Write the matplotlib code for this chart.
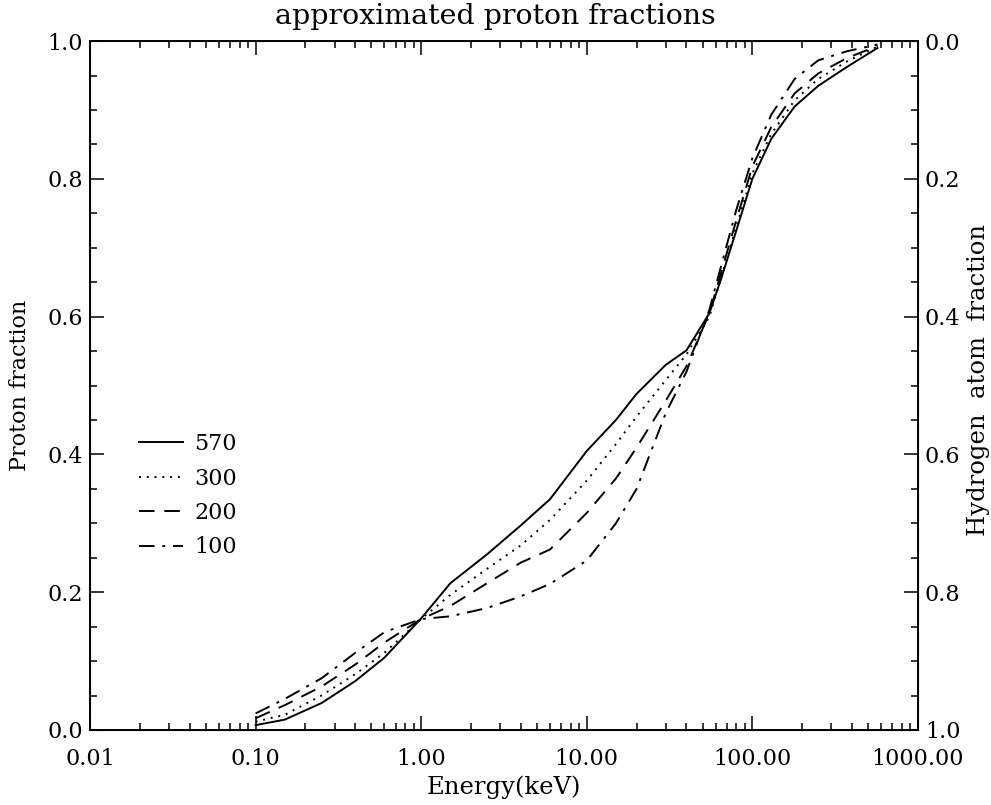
import numpy as np
import matplotlib
matplotlib.use("Agg")
import matplotlib.pyplot as plt
from matplotlib.ticker import FixedLocator, FormatStrFormatter, MultipleLocator, LogLocator, NullFormatter

# energy grid (keV) shared by all curves
energy = [0.1, 0.15, 0.25, 0.4, 0.6, 1.0, 1.5, 2.5, 4, 6, 10, 15, 20, 30, 40,
          55, 65, 80, 100, 130, 180, 250, 370, 570]

# proton fraction, one list per curve
frac_570 = [0.007, 0.015, 0.039, 0.071, 0.105, 0.162, 0.213, 0.255, 0.297, 0.335,
            0.405, 0.450, 0.488, 0.530, 0.551, 0.605, 0.656, 0.725, 0.800, 0.858,
            0.905, 0.935, 0.962, 0.990]
frac_300 = [0.012, 0.022, 0.050, 0.081, 0.112, 0.161, 0.196, 0.234, 0.268, 0.305,
            0.362, 0.415, 0.455, 0.508, 0.545, 0.600, 0.658, 0.730, 0.808, 0.865,
            0.914, 0.945, 0.970, 0.992]
frac_200 = [0.017, 0.036, 0.063, 0.095, 0.127, 0.161, 0.180, 0.213, 0.243, 0.262,
            0.315, 0.365, 0.410, 0.478, 0.528, 0.605, 0.665, 0.740, 0.818, 0.875,
            0.924, 0.953, 0.975, 0.993]
frac_100 = [0.024, 0.045, 0.075, 0.112, 0.142, 0.161, 0.165, 0.177, 0.194, 0.212,
            0.246, 0.300, 0.350, 0.460, 0.520, 0.610, 0.675, 0.755, 0.830, 0.893,
            0.945, 0.972, 0.985, 0.995]

labels = ["570", "300", "200", "100"]
x_ticks = [0.01, 0.1, 1, 10, 100, 1000]

plt.rcParams['font.family'] = ['DejaVu Serif']
plt.rcParams['font.size'] = 16

fig = plt.figure(figsize=(9.91, 8.05), dpi=100)
ax = fig.add_axes([0.0908, 0.0932, 0.8355, 0.8558])

styles = ['-', (0, (1, 3)), (0, (8, 5)), (0, (8, 4, 1.5, 4))]
for y, lab, ls in zip([frac_570, frac_300, frac_200, frac_100], labels, styles):
    ax.plot(energy, y, color='black', lw=1.4, linestyle=ls, label=lab)

ax.set_xscale('log')
ax.set_xlim(0.01, 1000)
ax.set_ylim(0, 1)
ax.xaxis.set_major_locator(FixedLocator(x_ticks))
ax.xaxis.set_major_formatter(FormatStrFormatter('%.2f'))
ax.xaxis.set_minor_locator(LogLocator(base=10, subs=np.arange(2, 10)))
ax.xaxis.set_minor_formatter(NullFormatter())
ax.yaxis.set_major_locator(MultipleLocator(0.2))
ax.yaxis.set_minor_locator(MultipleLocator(0.05))
ax.yaxis.set_major_formatter(FormatStrFormatter('%.1f'))
ax.tick_params(which='both', direction='in', top=True, right=False, width=1.1)
ax.tick_params(which='major', length=10, pad=5)
ax.tick_params(axis='x', which='major', pad=13)
ax.tick_params(which='minor', length=5)
for s in ax.spines.values():
    s.set_linewidth(1.4)

ax.set_xlabel('Energy(keV)', labelpad=4, fontsize=17.5)
ax.set_ylabel('Proton fraction', labelpad=12, fontsize=16)
fig.text(0.5, 1 - 17 / 805, 'approximated proton fractions', fontsize=20.5,
         ha='center', va='center')

# right axis: hydrogen atom fraction = 1 - proton fraction
ax2 = ax.twinx()
ax2.set_ylim(1, 0)
ax2.yaxis.set_major_locator(MultipleLocator(0.2))
ax2.yaxis.set_minor_locator(MultipleLocator(0.05))
ax2.yaxis.set_major_formatter(FormatStrFormatter('%.1f'))
ax2.tick_params(which='both', direction='in', width=1.1)
ax2.tick_params(which='major', length=10, pad=5)
ax2.tick_params(which='minor', length=5)
fig.text(979 / 991, 1 - 380 / 805, 'Hydrogen  atom  fraction', fontsize=17.5,
         rotation=90, ha='center', va='center')

ax.legend(loc='upper left', bbox_to_anchor=(0.035, 0.46), frameon=False,
          handlelength=2.0, handletextpad=0.5, labelspacing=0.56, fontsize=16)

fig.savefig('out.png', dpi=100)
